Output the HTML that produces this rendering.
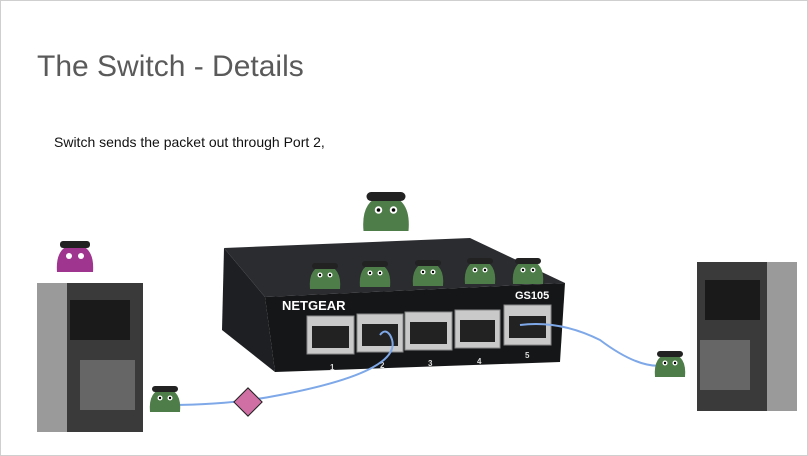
<!DOCTYPE html>
<html><head><style>
body{margin:0;width:808px;height:456px;background:#fff;overflow:hidden;font-family:"Liberation Sans",sans-serif}
.s{position:absolute;left:0;top:0;width:806px;height:454px;border:1px solid #cfcfcf}
</style></head><body><div class="s"></div>
<div style="position:absolute;left:37px;top:50px;font-size:30px;color:#5a5a5a">The Switch - Details</div>
<div style="position:absolute;left:54px;top:134px;font-size:14px;color:#111">Switch sends the packet out through Port 2,</div>
<svg width="808" height="456" style="position:absolute;left:0;top:0">
<defs>
<g id="g"><path d="M-15 12 Q-17 -10 0 -12 Q17 -10 15 12 Z" fill="#4f7d4a"/><rect x="-13" y="-14" width="26" height="6" rx="3" fill="#222"/><circle cx="-5" cy="-2" r="2.5" fill="#fff"/><circle cx="5" cy="-2" r="2.5" fill="#fff"/><circle cx="-5" cy="-2" r="1.2" fill="#000"/><circle cx="5" cy="-2" r="1.2" fill="#000"/></g>
</defs>
<rect x="37" y="283" width="106" height="149" fill="#3a3a3a"/>
<rect x="37" y="283" width="30" height="149" fill="#9a9a9a"/>
<rect x="70" y="300" width="60" height="40" fill="#1a1a1a"/>
<rect x="80" y="360" width="55" height="50" fill="#666"/>
<rect x="697" y="262" width="100" height="149" fill="#3a3a3a"/>
<rect x="767" y="262" width="30" height="149" fill="#9a9a9a"/>
<rect x="705" y="280" width="55" height="40" fill="#1a1a1a"/>
<rect x="700" y="340" width="50" height="50" fill="#666"/>
<polygon points="224,248 222,330 275,372 265,297" fill="#1e1f22"/>
<polygon points="224,248 470,238 565,283 265,297" fill="#2b2c30"/>
<polygon points="265,297 565,283 560,362 275,372" fill="#151618"/>
<text x="282" y="310" fill="#fff" font-size="13" font-weight="bold">NETGEAR</text>
<text x="515" y="299" fill="#fff" font-size="11" font-weight="bold">GS105</text>
<g fill="#c9c9c9" stroke="#888">
<rect x="307" y="316" width="47" height="38"/><rect x="357" y="314" width="46" height="38"/><rect x="405" y="312" width="47" height="38"/><rect x="455" y="310" width="45" height="38"/><rect x="504" y="305" width="47" height="40"/>
</g>
<g fill="#222"><rect x="312" y="326" width="37" height="22"/><rect x="362" y="324" width="36" height="22"/><rect x="410" y="322" width="37" height="22"/><rect x="460" y="320" width="35" height="22"/><rect x="509" y="316" width="37" height="22"/></g>
<g fill="#ddd" font-size="8" font-weight="bold"><text x="330" y="370">1</text><text x="380" y="368">2</text><text x="428" y="366">3</text><text x="477" y="364">4</text><text x="525" y="358">5</text></g>
<path d="M170 405 Q230 405 280 395 Q410 370 390 335 Q385 328 380 335" fill="none" stroke="#7ea8e8" stroke-width="2"/>
<path d="M520 325 Q560 320 600 340 Q640 370 665 365" fill="none" stroke="#7ea8e8" stroke-width="2"/>
<rect x="238" y="392" width="20" height="20" fill="#cf6fa3" stroke="#222" transform="rotate(45 248 402)"/>
<g transform="translate(386,213) scale(1.5)"><use href="#g"/></g>
<use href="#g" x="325" y="277"/><use href="#g" x="375" y="275"/><use href="#g" x="428" y="274"/><use href="#g" x="480" y="272"/><use href="#g" x="528" y="272"/>
<use href="#g" x="165" y="400"/><use href="#g" x="670" y="365"/>
<g transform="translate(75,258)"><path d="M-18 14 Q-20 -12 0 -14 Q20 -12 18 14 Z" fill="#a0358f"/><rect x="-15" y="-17" width="30" height="7" rx="3" fill="#222"/><circle cx="-6" cy="-2" r="3" fill="#fff"/><circle cx="6" cy="-2" r="3" fill="#fff"/></g>
</svg>
</body></html>
